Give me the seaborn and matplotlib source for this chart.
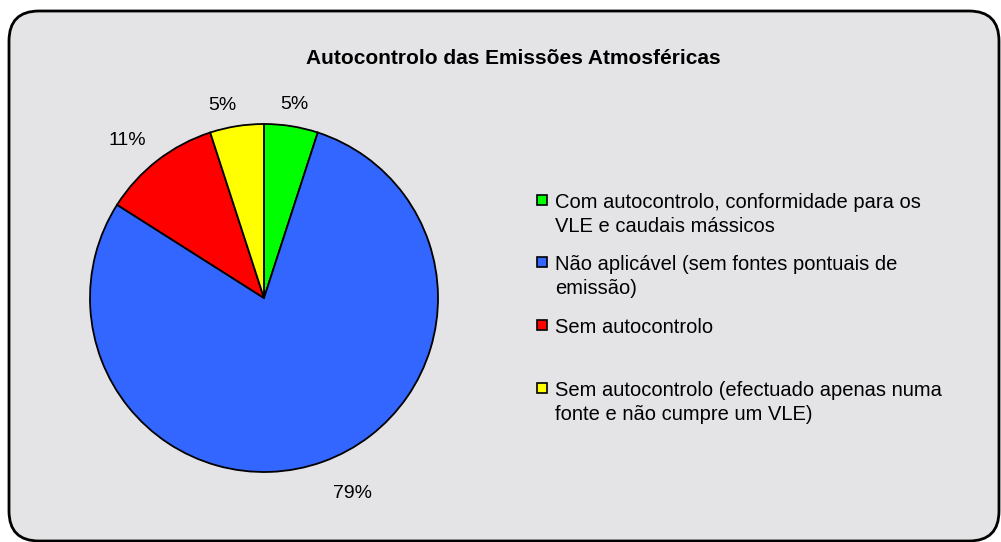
import matplotlib
matplotlib.use("Agg")
import matplotlib.pyplot as plt
import numpy as np
import seaborn as sns
from matplotlib.patches import FancyBboxPatch, Rectangle

sns.set_theme(style="white")
plt.rcParams['font.family'] = ['Liberation Sans', 'DejaVu Sans']

title = "Autocontrolo das Emissões Atmosféricas"
categories = [
    "Com autocontrolo, conformidade para os\nVLE e caudais mássicos",
    "Não aplicável (sem fontes pontuais de\nemissão)",
    "Sem autocontrolo",
    "Sem autocontrolo (efectuado apenas numa\nfonte e não cumpre um VLE)",
]
values = [5, 79, 11, 5]
colors = ["#00ff00", "#3366ff", "#ff0000", "#ffff00"]

# label placement (radial distance, angular nudge in degrees) per wedge
label_dist = [1.125, 1.23, 1.2, 1.135]
label_nudge = [0, 4.5, 3.2, 3.3]

W, H = 1001, 542
fig = plt.figure(figsize=(W / 100, H / 100), dpi=100)
fig.patch.set_facecolor("white")

# rounded chart area
box = FancyBboxPatch((9 / W, 1 / H), (W - 2 - 9) / W, (H - 11 - 1) / H,
                     boxstyle="round,pad=0,rounding_size=0.03",
                     transform=fig.transFigure, facecolor="#e4e4e7",
                     edgecolor="black", linewidth=2, mutation_aspect=W / H,
                     zorder=-5)
fig.patches.append(box)

cx, cy, r = 264, 298, 174
ax = fig.add_axes([(cx - r) / W, (H - cy - r) / H, 2 * r / W, 2 * r / H])
ax.set_zorder(2)
ax.set_facecolor("none")
wedges, texts, autotexts = ax.pie(
    values, colors=colors, startangle=90, counterclock=False,
    autopct=lambda p: f"{p:.0f}%", pctdistance=1.16,
    wedgeprops=dict(edgecolor="black", linewidth=1.3),
    textprops=dict(fontsize=14, color="black"))
for w, t, d, n in zip(wedges, autotexts, label_dist, label_nudge):
    mid = np.deg2rad((w.theta1 + w.theta2) / 2 + n)
    t.set_position((d * np.cos(mid), d * np.sin(mid)))
ax.set_xlim(-1, 1)
ax.set_ylim(-1, 1)
ax.set_aspect("equal")
ax.axis("off")

fig.text(513 / W, 1 - 59 / H, title, ha="center", va="center",
         fontsize=15, fontweight="bold", color="black")

# legend
starts = [200, 262, 325, 388]
for lab, col, y0 in zip(categories, colors, starts):
    fig.patches.append(Rectangle((537 / W, 1 - (y0 + 5) / H), 10 / W, 10 / H,
                                 transform=fig.transFigure, facecolor=col,
                                 edgecolor="black", linewidth=1.2, zorder=3))
    fig.text(555 / W, 1 - (y0 - 7) / H, lab, ha="left", va="top",
             fontsize=14.5, color="black", linespacing=1.3)

fig.savefig("out.png", dpi=100, facecolor="white")
